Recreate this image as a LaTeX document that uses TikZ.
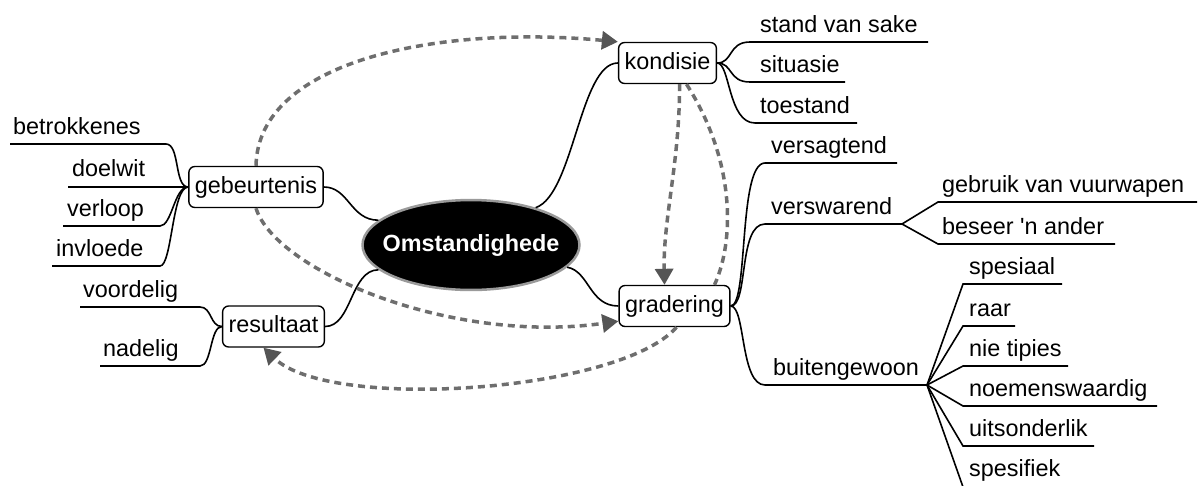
\documentclass[tikz,border=0pt]{standalone}
\usepackage{fontspec}
\setmainfont{Liberation Sans}[Ligatures=TeXOff]
\usetikzlibrary{shapes.geometric,arrows.meta}
\definecolor{linkgray}{HTML}{6E6E6E}
\definecolor{tipgray}{HTML}{555555}
\definecolor{rimgray}{HTML}{9A9A9A}

\begin{document}
\begin{tikzpicture}[x=1pt,y=-1pt,
  every node/.style={font=\fontsize{23.4}{28}\selectfont},
  topic/.style={draw=black, line width=1.4pt, rounded corners=6pt, fill=white,
    inner xsep=6pt, inner ysep=9.5pt, text height=17pt, text depth=5pt},
  hub/.style={ellipse, fill=black, draw=rimgray, line width=2.5pt,
    inner xsep=-11.7pt, inner ysep=20.8pt, text height=17pt, text depth=5pt,
    text=white, font=\fontsize{23.4}{28}\selectfont\bfseries},
  leaf/.style={anchor=base west, inner sep=0pt},
  branch/.style={draw=black, line width=1.6pt},
  relation/.style={draw=linkgray, line width=3.5pt, dash pattern=on 7pt off 5pt},
  reltip/.style={-{Triangle[length=16pt,width=18pt,color=tipgray]}},
]
\useasboundingbox (0,0) rectangle (1198,485);
\clip (0,0) rectangle (1198,485);

% central topic and main topics
\node[hub] (hub) at (471,245) {Omstandighede};
\node[topic] (gebeurtenis) at (256,187) {gebeurtenis};
\node[topic] (resultaat) at (273.5,326.5) {resultaat};
\node[topic] (kondisie) at (667.5,63) {kondisie};
\node[topic] (gradering) at (674.5,306) {gradering};

% hub to main topics
\draw[branch] (gebeurtenis.east) .. controls +(25,0) and +(-28,0) .. (hub.165);
\draw[branch] (resultaat.east) .. controls +(27,0) and +(-28,0) .. (hub.195);
\draw[branch] (hub.30) .. controls +(38,-13) and +(-38,0) .. (kondisie.west);
\draw[branch] (hub.-13) .. controls +(22,4) and +(-29,0) .. (gradering.west);

% gebeurtenis subtopics
\node[leaf] (betrokkenes) at (13,134) {betrokkenes};
\node[leaf] (doelwit) at (72,176) {doelwit};
\node[leaf] (verloop) at (67,216) {verloop};
\node[leaf] (invloede) at (56,256) {invloede};
\coordinate (sBet) at (166,144); \coordinate (eBet) at (10,144);
\coordinate (eDoe) at (68,187);
\coordinate (sVer) at (160,226); \coordinate (eVer) at (63,226);
\coordinate (sInv) at (160,266); \coordinate (eInv) at (52,266);
\draw[branch] (gebeurtenis.west) .. controls +(-14,0) and +(14,0) .. (sBet) -- (eBet);
\draw[branch] (gebeurtenis.west) -- (eDoe);
\draw[branch] (gebeurtenis.west) .. controls +(-14,0) and +(12,0) .. (sVer) -- (eVer);
\draw[branch] (gebeurtenis.west) .. controls +(-16,0) and +(12,0) .. (sInv) -- (eInv);

% resultaat subtopics
\node[leaf] (voordelig) at (83,297) {voordelig};
\node[leaf] (nadelig) at (103,356) {nadelig};
\coordinate (sVoo) at (200,307); \coordinate (eVoo) at (80,307);
\coordinate (sNad) at (200,366); \coordinate (eNad) at (100,366);
\draw[branch] (resultaat.west) .. controls +(-12,0) and +(12,0) .. (sVoo) -- (eVoo);
\draw[branch] (resultaat.west) .. controls +(-12,0) and +(12,0) .. (sNad) -- (eNad);

% kondisie subtopics
\node[leaf] (stand) at (760,32) {stand van sake};
\node[leaf] (situasie) at (760,72) {situasie};
\node[leaf] (toestand) at (760,113) {toestand};
\coordinate (sSta) at (750,42); \coordinate (eSta) at (928,42);
\coordinate (sSit) at (750,82); \coordinate (eSit) at (845,82);
\coordinate (sToe) at (755,123); \coordinate (eToe) at (857,123);
\draw[branch] (kondisie.east) .. controls +(16,0) and +(-22,0) .. (sSta) -- (eSta);
\draw[branch] (kondisie.east) .. controls +(16,0) and +(-22,0) .. (sSit) -- (eSit);
\draw[branch] (kondisie.east) .. controls +(13,0) and +(-27,0) .. (sToe) -- (eToe);

% gradering subtopics
\node[leaf] (versagtend) at (771,153) {versagtend};
\node[leaf] (verswarend) at (771,214) {verswarend};
\node[leaf] (buitengewoon) at (773,375) {buitengewoon};
\coordinate (sVsa) at (765,163); \coordinate (eVsa) at (897,163);
\coordinate (sVsw) at (765,224); \coordinate (fVsw) at (902,224);
\coordinate (sBui) at (765,385); \coordinate (fBui) at (927,385);
\draw[branch] (gradering.east) .. controls +(18,0) and +(-27,0) .. (sVsa) -- (eVsa);
\draw[branch] (gradering.east) .. controls +(18,0) and +(-27,0) .. (sVsw) -- (fVsw);
\draw[branch] (gradering.east) .. controls +(15,0) and +(-25,0) .. (sBui) -- (fBui);

% verswarend subtopics
\node[leaf] (vuurwapen) at (942,192) {gebruik van vuurwapen};
\node[leaf] (beseer) at (942,234) {beseer 'n ander};
\coordinate (sVuu) at (938,202); \coordinate (eVuu) at (1197,202);
\coordinate (sBes) at (938,244); \coordinate (eBes) at (1115,244);
\draw[branch] (fVsw) -- (sVuu) -- (eVuu);
\draw[branch] (fVsw) -- (sBes) -- (eBes);

% buitengewoon subtopics
\node[leaf] (spesiaal) at (969,274) {spesiaal};
\node[leaf] (raar) at (969,316) {raar};
\node[leaf] (nietipies) at (969,356) {nie tipies};
\node[leaf] (noemens) at (969,396) {noemenswaardig};
\node[leaf] (uitsonderlik) at (969,436) {uitsonderlik};
\node[leaf] (spesifiek) at (969,476) {spesifiek};
\foreach \nm/\yy/\xe in {Spa/284/1062, Raa/326/1015, Nie/366/1068,
                          Noe/406/1157, Uit/446/1094, Spf/487/1082}{
  \coordinate (s\nm) at (963,\yy);
  \coordinate (e\nm) at (\xe,\yy);
  \draw[branch] (fBui) -- (s\nm) -- (e\nm);
}

% relationship links
\draw[relation, reltip] (gebeurtenis.north) .. controls (258,60) and (440,25) .. (kondisie.north west);
\draw[relation, reltip] (gebeurtenis.south) .. controls (275,270) and (450,345) .. ([yshift=6pt]gradering.south west);
\draw[relation, reltip] ([xshift=12pt]kondisie.south) .. controls (680,160) and (663,220) .. ([xshift=-10pt]gradering.north);
\draw[relation] ([xshift=19pt]kondisie.south) .. controls (735,160) and (735,240) .. ([xshift=40pt]gradering.north);
\draw[relation, reltip] ([xshift=2pt]gradering.south) .. controls (620,392) and (330,412) .. ([xshift=-10pt]resultaat.south);
\end{tikzpicture}
\end{document}
